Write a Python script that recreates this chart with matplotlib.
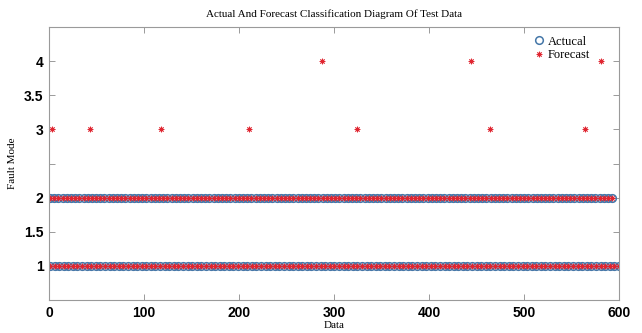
import numpy as np
import matplotlib.pyplot as plt

# ==============================================================================
# DATA
# ==============================================================================
# samples of each fault mode shown as a dense row of markers
mode1_count = 125
mode1_first, mode1_last = 1, 600
mode2_count = 135
mode2_first, mode2_last = 1, 593

# forecasts that fell on the wrong fault mode
wrong_mode3_x = [3, 43, 118, 211, 324, 464, 564]
wrong_mode4_x = [287, 444, 581]

x_ticks = [0, 100, 200, 300, 400, 500, 600]
y_ticks = [1, 1.5, 2, 2.5, 3, 3.5, 4]
# the 2.5 label is not printed in the original
y_tick_labels = ['1', '1.5', '2', '', '3', '3.5', '4']

# ==============================================================================
# BUILD SERIES
# ==============================================================================
x1 = np.linspace(mode1_first, mode1_last, mode1_count)
x2 = np.linspace(mode2_first, mode2_last, mode2_count)

actual_x = np.concatenate([x1, x2])
actual_y = np.concatenate([np.full(len(x1), 1), np.full(len(x2), 2)])

forecast_x = np.concatenate([actual_x, wrong_mode3_x, wrong_mode4_x])
forecast_y = np.concatenate([actual_y,
                             np.full(len(wrong_mode3_x), 3),
                             np.full(len(wrong_mode4_x), 4)])

# ==============================================================================
# PLOTTING & STYLING
# ==============================================================================
serif = 'Liberation Serif'
circle_color = '#4577a8'
star_color = '#e02530'
frame_color = '#9a9a9a'

fig = plt.figure(figsize=(6.42, 3.33), dpi=100)
ax = fig.add_axes([0.0763, 0.099, 0.8877, 0.820])

ax.plot(actual_x, actual_y, linestyle='none', marker='o', markersize=5.5,
        markerfacecolor='none', markeredgecolor=circle_color,
        markeredgewidth=1.1, label='Actucal')
ax.plot(forecast_x, forecast_y, linestyle='none', marker=(8, 2, 0),
        markersize=4, color=star_color, markeredgewidth=0.6,
        label='Forecast')

ax.set_xlim(0, 600)
ax.set_ylim(0.5, 4.5)
ax.set_xticks(x_ticks)
ax.set_yticks(y_ticks)
ax.set_yticklabels(y_tick_labels)

for lbl in ax.get_xticklabels() + ax.get_yticklabels():
    lbl.set_fontfamily('Liberation Sans')
    lbl.set_fontweight('bold')
    lbl.set_fontsize(10)

ax.tick_params(direction='in', top=True, right=True, length=4,
               width=0.7, color=frame_color, pad=4)
for sp in ax.spines.values():
    sp.set_color(frame_color)
    sp.set_linewidth(0.8)

ax.set_title('Actual And Forecast Classification Diagram Of Test Data',
             fontfamily=serif, fontsize=8, pad=7)
ax.set_xlabel('Data', fontfamily=serif, fontsize=8, labelpad=1)
ax.set_ylabel('Fault Mode', fontfamily=serif, fontsize=8, labelpad=5)

leg = ax.legend(loc='upper right', bbox_to_anchor=(0.965, 1.0),
                frameon=False, prop={'family': serif, 'size': 9},
                handletextpad=0.2, borderaxespad=0.3, labelspacing=0.1,
                handlelength=1.0)

fig.savefig('out.png', dpi=100)
